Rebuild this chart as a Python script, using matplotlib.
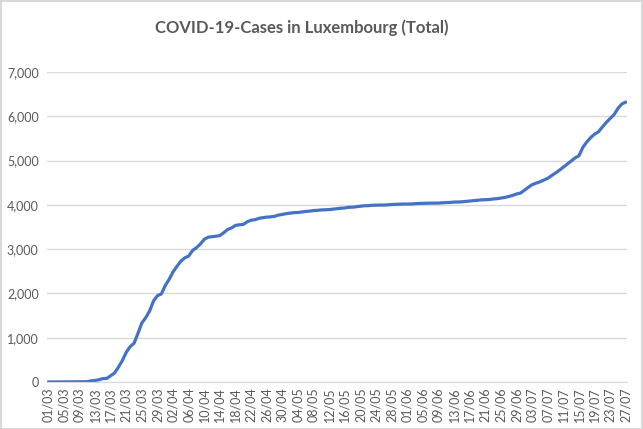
import matplotlib.pyplot as plt
import matplotlib.patches as patches
import pandas as pd

# cumulative cases, one value per day from 01/03
march = [1, 1, 1, 1, 2, 3, 4, 4, 5, 7, 7, 26, 34, 51, 77, 81, 140, 203, 335, 484,
         670, 798, 875, 1099, 1333, 1453, 1605, 1831, 1950, 1988, 2178]
april = [2319, 2487, 2612, 2729, 2804, 2843, 2970, 3034, 3115, 3223, 3270, 3281,
         3292, 3307, 3373, 3444, 3480, 3537, 3550, 3558, 3618, 3654, 3665, 3695,
         3711, 3723, 3729, 3741, 3769, 3784]
may = [3802, 3812, 3824, 3828, 3840, 3851, 3859, 3871, 3877, 3886, 3888, 3894,
       3904, 3915, 3923, 3930, 3945, 3947, 3958, 3971, 3980, 3981, 3990, 3993,
       3995, 3995, 4000, 4008, 4012, 4016, 4018]
june = [4019, 4020, 4027, 4032, 4035, 4037, 4039, 4040, 4040, 4047, 4052, 4055,
        4063, 4064, 4069, 4078, 4085, 4094, 4104, 4112, 4116, 4120, 4133, 4140,
        4153, 4167, 4189, 4214, 4245, 4265]
july = [4330, 4395, 4456, 4490, 4520, 4560, 4600, 4662, 4720, 4783, 4850, 4920,
        4990, 5060, 5110, 5300, 5420, 5520, 5597, 5650, 5760, 5863, 5950, 6040,
        6180, 6280, 6321]

cases = march + april + may + june + july
dates = pd.date_range('2020-03-01', periods=len(cases))
date_labels = [d.strftime('%d/%m') for d in dates]
y_ticks = [0, 1000, 2000, 3000, 4000, 5000, 6000, 7000]

grey_text = '#595959'
grid_col = '#d9d9d9'
font = ['Lato', 'DejaVu Sans']

fig = plt.figure(figsize=(6.43, 4.29), dpi=100)
ax = fig.add_axes([47 / 643, 1 - 382 / 429, 580 / 643, 310 / 429])

x = list(range(len(cases)))
ax.plot(x, cases, color='#4472C4', linewidth=2.3, solid_capstyle='round')

ax.set_xlim(-0.3, len(cases) - 1 + 0.3)
ax.set_ylim(0, 7000)
ax.set_yticks(y_ticks)
ax.set_yticklabels([f'{v:,}' for v in y_ticks], fontsize=9, color=grey_text, family=font)
ax.set_xticks(x[::4])
ax.set_xticklabels(date_labels[::4], rotation=90, fontsize=9, color=grey_text, family=font)
ax.tick_params(axis='both', length=0, pad=6)
ax.tick_params(axis='x', pad=4)

ax.grid(axis='y', color=grid_col, linewidth=1)
ax.set_axisbelow(True)
for s in ['top', 'right', 'left']:
    ax.spines[s].set_visible(False)
ax.spines['bottom'].set_color(grid_col)

fig.text(302 / 643, 1 - 28 / 429, 'COVID-19-Cases in Luxembourg (Total)', ha='center', va='center',
         fontsize=12, fontweight='bold', color=grey_text, family=font)

# outer frame like the chart object border
fig.patches.append(patches.Rectangle((0.001, 0.001), 0.997, 0.997, transform=fig.transFigure,
                                     fill=False, edgecolor=grid_col, linewidth=1.5))

fig.savefig('out.png', dpi=100)
